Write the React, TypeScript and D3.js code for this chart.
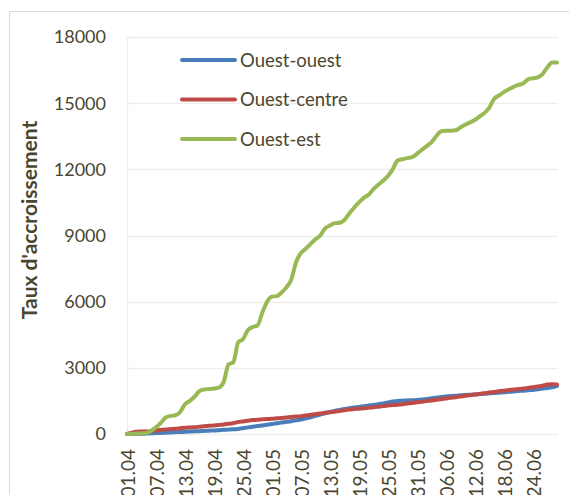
import React from "react";
import * as d3 from "d3";

const START = new Date(2020, 3, 1);
const dates: Date[] = d3.timeDay.range(START, d3.timeDay.offset(START, 90));
const fmt = d3.timeFormat("%d.%m");
const categories: string[] = dates.map((d) => fmt(d));

const xTickLabels = [
  "01.04", "07.04", "13.04", "19.04", "25.04", "01.05", "07.05", "13.05",
  "19.05", "25.05", "31.05", "06.06", "12.06", "18.06", "24.06",
];
const yTicks = [0, 3000, 6000, 9000, 12000, 15000, 18000];

const ouestOuest = [
  0, 0, 5, 10, 20, 30, 40, 50, 60, 70,
  80, 90, 100, 110, 120, 130, 140, 150, 160, 175,
  190, 200, 210, 230, 260, 300, 330, 360, 390, 420,
  450, 490, 520, 550, 580, 620, 660, 710, 760, 820,
  880, 940, 1000, 1050, 1090, 1130, 1170, 1200, 1230, 1260,
  1290, 1320, 1350, 1390, 1430, 1470, 1500, 1510, 1520, 1530,
  1540, 1560, 1590, 1620, 1650, 1680, 1700, 1720, 1740, 1755,
  1770, 1780, 1790, 1810, 1830, 1845, 1860, 1875, 1890, 1910,
  1930, 1950, 1965, 1985, 2000, 2030, 2060, 2090, 2120, 2170,
];

const ouestCentre = [
  0, 60, 100, 110, 115, 130, 160, 185, 210, 225,
  240, 260, 280, 295, 310, 330, 350, 370, 390, 410,
  430, 460, 490, 540, 570, 600, 630, 650, 665, 680,
  690, 710, 730, 750, 770, 790, 810, 840, 870, 900,
  930, 960, 990, 1010, 1040, 1080, 1110, 1130, 1150, 1170,
  1190, 1210, 1240, 1270, 1290, 1310, 1330, 1350, 1380, 1410,
  1440, 1460, 1490, 1520, 1550, 1580, 1610, 1640, 1670, 1700,
  1730, 1760, 1790, 1820, 1850, 1880, 1910, 1940, 1965, 1990,
  2020, 2040, 2060, 2090, 2120, 2150, 2190, 2240, 2260, 2250,
];

const ouestEst = [
  0, 10, 20, 30, 40, 150, 300, 500, 750, 820,
  850, 1000, 1350, 1500, 1700, 1950, 2020, 2040, 2060, 2100,
  2350, 3150, 3250, 4150, 4300, 4700, 4850, 4920, 5500, 6000,
  6230, 6250, 6420, 6650, 7000, 7800, 8200, 8400, 8620, 8830,
  9000, 9320, 9450, 9560, 9580, 9700, 10000, 10260, 10500, 10700,
  10850, 11100, 11300, 11480, 11700, 12000, 12400, 12460, 12510, 12550,
  12700, 12880, 13050, 13220, 13500, 13730, 13750, 13750, 13770, 13900,
  14020, 14130, 14234, 14400, 14560, 14800, 15200, 15350, 15500, 15620,
  15740, 15830, 15890, 16080, 16130, 16170, 16320, 16620, 16840, 16840,
];

const seriesNames = ["Ouest-ouest", "Ouest-centre", "Ouest-est"];
const seriesColors = ["#4a7ebb", "#be4b48", "#98b954"];
const seriesData = [ouestOuest, ouestCentre, ouestEst];

const W = 569;
const H = 495;
const TEXT = "#4a4630";
const GRID = "#efeee8";
const FONT = "Lato, 'Open Sans', sans-serif";

export default function App() {
  const x = d3.scalePoint<string>().domain(categories).range([127, 557]).padding(0);
  const y = d3.scaleLinear().domain([0, 18000]).range([434, 37]);

  const line = d3
    .line<number>()
    .x((_, i) => x(categories[i]) as number)
    .y((d) => y(d))
    .curve(d3.curveMonotoneX);

  return (
    <svg
      width={W}
      height={H}
      style={{ position: "absolute", left: 0, top: 0, background: "#fff" }}
      fontFamily={FONT}
    >
      <rect x={0} y={0} width={W} height={H} fill="#fff" />
      <path d={`M9.5,${H} V11.5 H${W}`} fill="none" stroke="#d9d9d9" strokeWidth={1} />

      {yTicks.map((t) => (
        <line
          key={t}
          x1={127}
          x2={558}
          y1={Math.round(y(t)) + 0.5}
          y2={Math.round(y(t)) + 0.5}
          stroke={GRID}
          strokeWidth={1.5}
        />
      ))}
      <line x1={127.5} x2={127.5} y1={37} y2={434} stroke={GRID} strokeWidth={1.5} />

      {yTicks.map((t) => (
        <text
          key={t}
          x={106}
          y={y(t)}
          dy="0.36em"
          textAnchor="end"
          fontSize={18}
          fill={TEXT}
        >
          {t}
        </text>
      ))}

      <text
        transform={`translate(37,220) rotate(-90)`}
        textAnchor="middle"
        fontSize={21}
        fontWeight="bold"
        fill={TEXT}
      >
        Taux d'accroissement
      </text>

      {xTickLabels.map((lab) => {
        const xi = (x(lab) as number) + 1;
        return (
          <text
            key={lab}
            transform={`translate(${xi},449) rotate(-90)`}
            dy="0.36em"
            textAnchor="end"
            fontSize={19}
            fill={TEXT}
          >
            {lab}
          </text>
        );
      })}

      {seriesData.map((s, k) => (
        <path
          key={seriesNames[k]}
          d={line(s) || ""}
          fill="none"
          stroke={seriesColors[k]}
          strokeWidth={4}
          strokeLinejoin="round"
          strokeLinecap="round"
        />
      ))}

      {seriesNames.map((n, k) => {
        const ly = 60 + k * 39.5;
        return (
          <g key={n}>
            <line
              x1={182}
              x2={235}
              y1={ly}
              y2={ly}
              stroke={seriesColors[k]}
              strokeWidth={4}
              strokeLinecap="round"
            />
            <text x={240} y={ly} dy="0.36em" fontSize={18.5} fill={TEXT}>
              {n}
            </text>
          </g>
        );
      })}
    </svg>
  );
}
